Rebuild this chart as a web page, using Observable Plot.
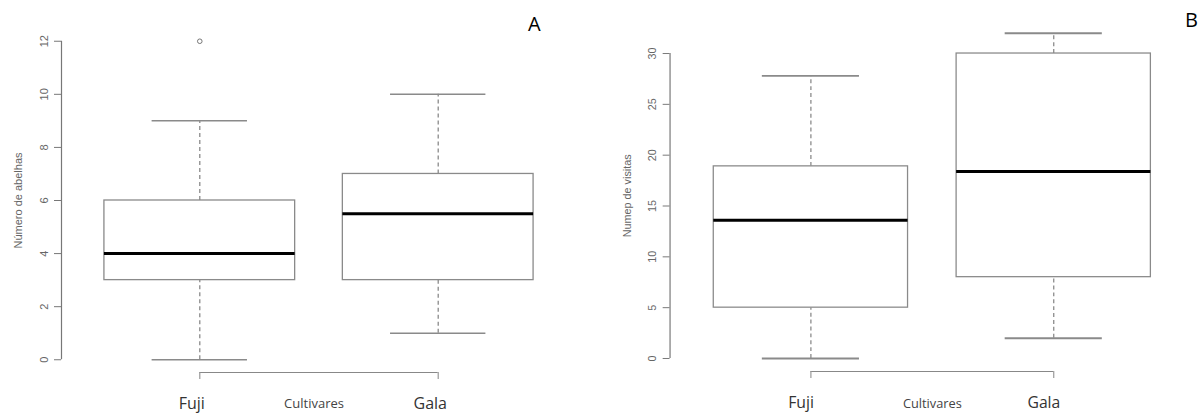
<!DOCTYPE html>
<html>
<head>
<meta charset="utf-8">
<script src="https://cdn.jsdelivr.net/npm/d3@7"></script>
<script src="https://cdn.jsdelivr.net/npm/@observablehq/plot@0.6"></script>
<style>
  html, body { margin: 0; padding: 0; background: #fff; overflow: hidden; }
  #wrap { position: relative; width: 1200px; height: 418px; overflow: hidden; }
  .panel { position: absolute; top: 0; }
  .tag { position: absolute; font-family: "Open Sans", sans-serif; font-size: 20px; color: #000; line-height: 1; }
</style>
</head>
<body>
<div id="wrap">
  <div class="panel" id="pa" style="left:0px"></div>
  <div class="panel" id="pb" style="left:580px"></div>
  <div class="tag" style="left:528px; top:14px;">A</div>
  <div class="tag" style="left:1185px; top:10px;">B</div>
</div>
<script>
// ---- Data ----
const cultivares = ["Fuji", "Gala"];
const xTitle = "Cultivares";

// Panel A: Número de abelhas
const abelhasMin = [0, 1];
const abelhasQ1 = [3, 3];
const abelhasMedian = [4, 5.5];
const abelhasQ3 = [6, 7];
const abelhasMax = [9, 10];
const abelhasOutliers = [["Fuji", 12]];
const abelhasTicks = [0, 2, 4, 6, 8, 10, 12];
const abelhasLabel = "Número de abelhas";

// Panel B: Número de visitas
const visitasMin = [0, 2];
const visitasQ1 = [5, 8];
const visitasMedian = [13.6, 18.4];
const visitasQ3 = [18.9, 30];
const visitasMax = [27.8, 32];
const visitasOutliers = [];
const visitasTicks = [0, 5, 10, 15, 20, 25, 30];
const visitasLabel = "Numep de visitas";

// ---- Build ----
function rows(mins, q1s, meds, q3s, maxs) {
  return cultivares.map((c, i) => ({
    pos: i + 1, name: c, min: mins[i], q1: q1s[i], median: meds[i], q3: q3s[i], max: maxs[i]
  }));
}

function boxplot({data, outliers, ticks, label, width, height, marginTop, marginBottom, marginLeft, marginRight, capWidth, labelPad, labelDx, titleDy, titleDx}) {
  const lo = Math.min(...data.map(d => d.min), ...outliers.map(o => o[1]));
  const hi = Math.max(...data.map(d => d.max), ...outliers.map(o => o[1]));
  const ext = (hi - lo) * 0.04;
  const yDomain = [lo - ext, hi + ext];
  const xDomain = [0.5 - 0.08, cultivares.length + 0.5 + 0.08];
  const boxHalf = 0.4, capHalf = 0.2;
  const gray = "#8a8a8a";
  const positions = cultivares.map((c, i) => i + 1);
  const outs = outliers.map(([c, v]) => ({pos: cultivares.indexOf(c) + 1, value: v}));
  return Plot.plot({
    width, height, marginTop, marginBottom, marginLeft, marginRight,
    style: {fontFamily: "'Liberation Sans', Arial, sans-serif", background: "transparent", overflow: "visible"},
    x: {type: "linear", domain: xDomain, axis: null},
    y: {type: "linear", domain: yDomain, axis: null},
    marks: [
      // y axis line + ticks + rotated labels
      Plot.ruleX([xDomain[0]], {y1: ticks[0], y2: ticks[ticks.length - 1], stroke: "#777", strokeWidth: 1.2}),
      Plot.axisY(ticks, {tickSize: 7, tickRotate: -90, tickPadding: 7, fontSize: 11, color: "#666", stroke: "#777",
        label, labelAnchor: "center", labelOffset: 47, labelArrow: "none"}),
      // x axis bracket
      Plot.ruleY([yDomain[0]], {x1: 1, x2: cultivares.length, stroke: "#888", strokeWidth: 1.2}),
      Plot.axisX(positions, {tickSize: 7, stroke: "#999", strokeWidth: 1.2, tickFormat: () => "", label: null}),
      Plot.axisX(positions, {tickSize: 0, tickPadding: labelPad + 7, dx: labelDx,
        tickFormat: p => cultivares[p - 1], fontSize: 16, fontFamily: "'Open Sans', sans-serif", color: "#333", label: null}),
      Plot.text([xTitle], {frameAnchor: "bottom", dy: titleDy, dx: titleDx, lineAnchor: "top", fontSize: 13,
        fontFamily: "'Open Sans', sans-serif", fill: "#444"}),
      // whiskers
      Plot.ruleX(data, {x: "pos", y1: "q3", y2: "max", stroke: gray, strokeWidth: 1.3, strokeDasharray: "4,3"}),
      Plot.ruleX(data, {x: "pos", y1: "min", y2: "q1", stroke: gray, strokeWidth: 1.3, strokeDasharray: "4,3"}),
      Plot.ruleY(data, {y: "max", x1: d => d.pos - capHalf, x2: d => d.pos + capHalf, stroke: gray, strokeWidth: capWidth}),
      Plot.ruleY(data, {y: "min", x1: d => d.pos - capHalf, x2: d => d.pos + capHalf, stroke: gray, strokeWidth: capWidth}),
      // boxes
      Plot.rect(data, {x1: d => d.pos - boxHalf, x2: d => d.pos + boxHalf, y1: "q1", y2: "q3", fill: "white", stroke: gray, strokeWidth: 1.3}),
      Plot.ruleY(data, {y: "median", x1: d => d.pos - boxHalf, x2: d => d.pos + boxHalf, stroke: "#000", strokeWidth: 3}),
      // outliers
      Plot.dot(outs, {x: "pos", y: "value", r: 2.3, stroke: "#777", fill: "none", strokeWidth: 1})
    ]
  });
}

document.getElementById("pa").append(boxplot({
  data: rows(abelhasMin, abelhasQ1, abelhasMedian, abelhasQ3, abelhasMax),
  outliers: abelhasOutliers, ticks: abelhasTicks, label: abelhasLabel,
  width: 580, height: 418, marginTop: 28, marginBottom: 46, marginLeft: 61, marginRight: 4,
  capWidth: 1.5, labelPad: 18, labelDx: -8, titleDy: 26, titleDx: -5
}));

document.getElementById("pb").append(boxplot({
  data: rows(visitasMin, visitasQ1, visitasMedian, visitasQ3, visitasMax),
  outliers: visitasOutliers, ticks: visitasTicks, label: visitasLabel,
  width: 630, height: 418, marginTop: 20, marginBottom: 41, marginLeft: 91, marginRight: 6,
  capWidth: 2, labelPad: 19, labelDx: -10, titleDy: 28, titleDx: 0
}));
</script>
</body>
</html>
